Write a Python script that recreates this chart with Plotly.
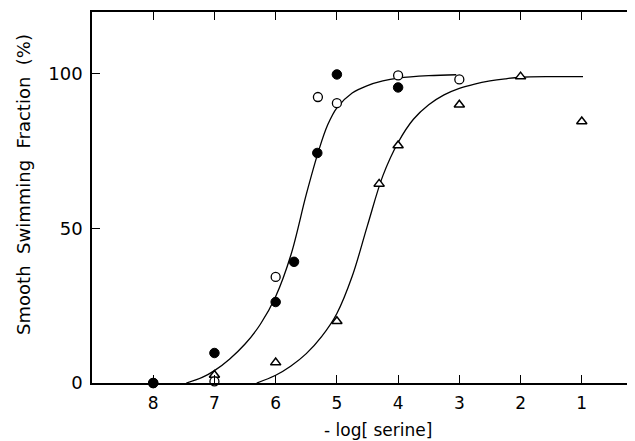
import plotly.graph_objects as go

# Data
filled_x = [8, 7, 6, 5.7, 5.32, 5, 4]
filled_y = [0, 9.7, 26.2, 39.2, 74.4, 99.8, 95.6]

open_x = [8, 7, 6, 5.31, 5, 4, 3]
open_y = [0, 0.5, 34.3, 92.5, 90.5, 99.5, 98.2]

tri_x = [7, 6, 5, 4.31, 4, 3, 2, 1]
tri_y = [2.6, 6.6, 20.0, 64.4, 76.8, 90.0, 99.1, 84.6]

# Fitted curves
fit1_x = [7.46, 7.2, 7.0, 6.75, 6.5, 6.25, 6.0, 5.75, 5.5, 5.3, 5.15, 5.0, 4.75, 4.5, 4.25, 4.0, 3.5, 3.05]
fit1_y = [0, 1.8, 4.0, 7.8, 12.6, 19.0, 28.0, 41.5, 61.0, 75.0, 83.5, 89.0, 93.8, 96.2, 97.7, 98.6, 99.4, 99.7]

fit2_x = [6.31, 6.0, 5.75, 5.5, 5.25, 5.0, 4.75, 4.5, 4.25, 4.0, 3.75, 3.5, 3.25, 3.0, 2.75, 2.5, 2.25, 2.0, 1.5, 0.98]
fit2_y = [0, 2.5, 5.5, 9.5, 15.0, 22.5, 34.5, 51.0, 67.0, 77.8, 85.3, 90.0, 93.2, 95.3, 96.7, 97.7, 98.4, 98.9, 99.1, 99.1]

x_ticks = [8, 7, 6, 5, 4, 3, 2, 1]
y_ticks = [0, 50, 100]

FONT = "DejaVu Sans"

fig = go.Figure()
for fx, fy in [(fit1_x, fit1_y), (fit2_x, fit2_y)]:
    fig.add_trace(go.Scatter(x=fx, y=fy, mode="lines",
                             line=dict(color="black", width=1.3, shape="spline", smoothing=1.0),
                             hoverinfo="skip", showlegend=False))
fig.add_trace(go.Scatter(x=tri_x, y=tri_y, mode="markers",
                         marker=dict(symbol="triangle-up", size=9, color="white",
                                     line=dict(color="black", width=1.5)),
                         showlegend=False, cliponaxis=False))
fig.add_trace(go.Scatter(x=open_x, y=open_y, mode="markers",
                         marker=dict(symbol="circle", size=9, color="white",
                                     line=dict(color="black", width=1.3)),
                         showlegend=False, cliponaxis=False))
fig.add_trace(go.Scatter(x=filled_x, y=filled_y, mode="markers",
                         marker=dict(symbol="circle", size=9.5, color="black",
                                     line=dict(color="black", width=1)),
                         showlegend=False, cliponaxis=False))

fig.update_layout(
    width=635, height=441,
    margin=dict(l=84, r=0, t=4, b=66),
    paper_bgcolor="white", plot_bgcolor="white",
    font=dict(family=FONT, size=16, color="black"),
    xaxis=dict(range=[9, 0], tickvals=x_ticks, ticktext=[str(v) for v in x_ticks],
               showgrid=False, zeroline=False, showline=True, linecolor="black", linewidth=1.5,
               mirror="ticks", ticks="inside", ticklen=8, tickwidth=1.2, tickcolor="black",
               ticklabelstandoff=4,
               tickfont=dict(family=FONT, size=17)),
    yaxis=dict(range=[0, 120], tickvals=y_ticks, ticktext=[str(v) for v in y_ticks],
               showgrid=False, zeroline=False, showline=True, linecolor="black", linewidth=1.5,
               mirror=False, ticks="inside", ticklen=8, tickwidth=1.2, tickcolor="black",
               ticklabelstandoff=4,
               tickfont=dict(family=FONT, size=18)),
    annotations=[
        dict(text="- log[ serine]", xref="paper", yref="paper", x=0.519, y=-0.127,
             xanchor="center", yanchor="middle", showarrow=False,
             font=dict(family=FONT, size=17)),
        dict(text="Smooth  Swimming  Fraction  (%)", xref="paper", yref="paper", x=-0.1234, y=0.534,
             xanchor="center", yanchor="middle", textangle=-90, showarrow=False,
             font=dict(family=FONT, size=18)),
    ],
)

fig.write_html("out.html")
